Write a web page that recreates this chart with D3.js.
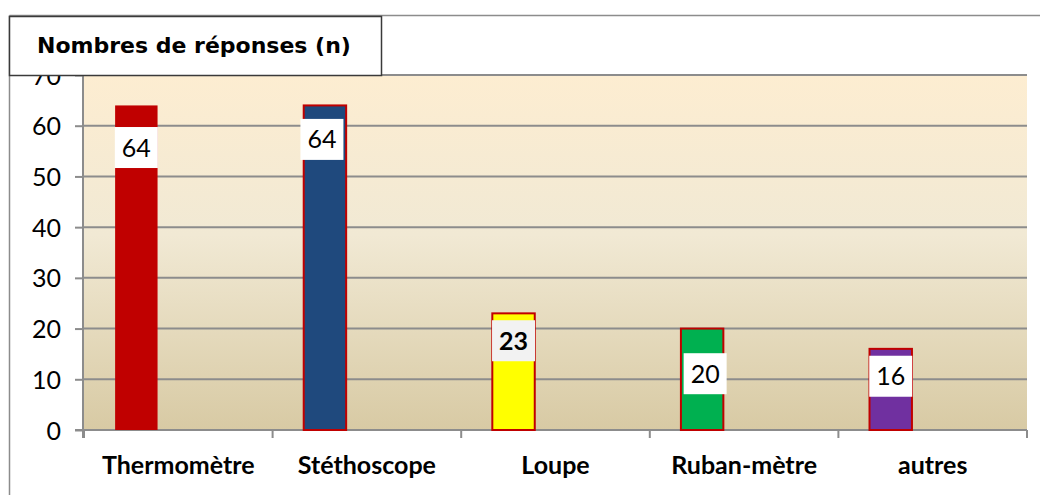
<!DOCTYPE html>
<html>
<head>
<meta charset="utf-8">
<script src="https://cdn.jsdelivr.net/npm/d3@7"></script>
<style>
  html, body { margin: 0; padding: 0; background: #fff; }
  svg { display: block; }
</style>
</head>
<body>
<div class="chart"></div>
<script>
// data
const categories = ['Thermomètre', 'Stéthoscope', 'Loupe', 'Ruban-mètre', 'autres'];
const values = [64, 64, 23, 20, 16];
const yTicks = [0, 10, 20, 30, 40, 50, 60, 70];
const title = 'Nombres de réponses (n)';

// looks
const barColors = ['#C00000', '#1F497D', '#FFFF00', '#00B050', '#7030A0'];
const labelAt = [55.7, 57.3, 17.6, 11.1, 10.6];   // where the value box sits (in value units)
const labelDx = [0, -3, 0, 3, 0];
const labelBold = [false, false, true, false, false];

const config = { width: 1040, height: 495 };
const plot = { left: 84, right: 1027, top: 75, bottom: 430 };
const font = 'Lato, "Open Sans", sans-serif';

const svg = d3.select('.chart').append('svg')
  .attr('width', config.width)
  .attr('height', config.height);

const defs = svg.append('defs');
const grad = defs.append('linearGradient')
  .attr('id', 'bg').attr('x1', 0).attr('y1', 0).attr('x2', 0).attr('y2', 1);
grad.append('stop').attr('offset', '0%').attr('stop-color', '#FDEDD1');
grad.append('stop').attr('offset', '45%').attr('stop-color', '#F1E9D4');
grad.append('stop').attr('offset', '100%').attr('stop-color', '#D8CAA4');

// outer frame
svg.append('line').attr('x1', 9.5).attr('x2', 1040).attr('y1', 15.5).attr('y2', 15.5)
  .attr('stroke', '#8c8c8c').attr('stroke-width', 1.5);
svg.append('line').attr('x1', 9.5).attr('x2', 9.5).attr('y1', 15.5).attr('y2', 495)
  .attr('stroke', '#8c8c8c').attr('stroke-width', 1.5);

const x = d3.scaleBand().domain(categories).range([plot.left, plot.right]);
const y = d3.scaleLinear().domain([0, 70]).range([plot.bottom, plot.top]);

// plot background
svg.append('rect')
  .attr('x', plot.left).attr('y', plot.top)
  .attr('width', plot.right - plot.left).attr('height', plot.bottom - plot.top)
  .attr('fill', 'url(#bg)');

// grid lines
svg.append('g').selectAll('line')
  .data(yTicks.filter(d => d > 0))
  .enter().append('line')
  .attr('x1', plot.left).attr('x2', plot.right)
  .attr('y1', d => y(d)).attr('y2', d => y(d))
  .attr('stroke', '#8c8c8c').attr('stroke-width', 2);

// y axis
const yAxis = svg.append('g')
  .attr('transform', `translate(${plot.left - 1},0)`)
  .call(d3.axisLeft(y).tickValues(yTicks).tickSize(8).tickPadding(14).tickFormat(d3.format('d')));
yAxis.select('.domain').attr('stroke', '#8c8c8c').attr('stroke-width', 2)
  .attr('d', `M0,${plot.top}V${plot.bottom + 8}`);
yAxis.selectAll('.tick line').attr('stroke', '#8c8c8c').attr('stroke-width', 2);
yAxis.selectAll('.tick text')
  .attr('font-family', font)
  .attr('font-size', 25).attr('fill', '#000').attr('dy', '0.36em');

// x axis
const xAxis = svg.append('g')
  .attr('transform', `translate(0,${plot.bottom})`)
  .call(d3.axisBottom(x).tickSize(0).tickPadding(26));
xAxis.select('.domain').attr('stroke', '#8c8c8c').attr('stroke-width', 2)
  .attr('d', `M${plot.left - 9},0H${plot.right}`);
xAxis.selectAll('.tick text')
  .attr('font-family', font)
  .attr('font-weight', 'bold')
  .attr('font-size', 25).attr('fill', '#000');
xAxis.append('g').selectAll('line')
  .data(categories.map(c => x(c)).concat([plot.right]))
  .enter().append('line')
  .attr('x1', d => d).attr('x2', d => d)
  .attr('y1', 0).attr('y2', 8)
  .attr('stroke', '#8c8c8c').attr('stroke-width', 2);

// bars
const bw = x.bandwidth();
const barX = c => x(c) + bw * 0.165;
const barW = bw * 0.225;

svg.append('g').selectAll('rect')
  .data(categories)
  .enter().append('rect')
  .attr('x', c => barX(c))
  .attr('y', (c, i) => y(values[i]))
  .attr('width', barW)
  .attr('height', (c, i) => y(0) - y(values[i]))
  .attr('fill', (c, i) => barColors[i])
  .attr('stroke', (c, i) => i === 0 ? 'none' : '#C00000')
  .attr('stroke-width', 2);

// value boxes
const labels = svg.append('g').selectAll('g')
  .data(categories)
  .enter().append('g')
  .attr('transform', (c, i) => `translate(${barX(c) + barW / 2 + labelDx[i]},${y(labelAt[i])})`);

labels.append('rect')
  .attr('x', -21.5).attr('y', -20.5)
  .attr('width', 43).attr('height', 41)
  .attr('fill', (c, i) => labelBold[i] ? '#F2F2F2' : '#fff');

labels.append('text')
  .attr('text-anchor', 'middle')
  .attr('dy', '0.36em')
  .attr('font-family', font)
  .attr('font-size', 25)
  .attr('font-weight', (c, i) => labelBold[i] ? 'bold' : 'normal')
  .text((c, i) => values[i]);

// title box
svg.append('rect')
  .attr('x', 9.5).attr('y', 16.5).attr('width', 372).attr('height', 59)
  .attr('fill', '#fff').attr('stroke', '#3a3a3a').attr('stroke-width', 1.5);
svg.append('text')
  .attr('x', 37).attr('y', 53)
  .attr('font-family', '"DejaVu Sans", Verdana, sans-serif')
  .attr('font-weight', 'bold')
  .attr('font-size', 22)
  .attr('fill', '#000')
  .text(title);
</script>
</body>
</html>
